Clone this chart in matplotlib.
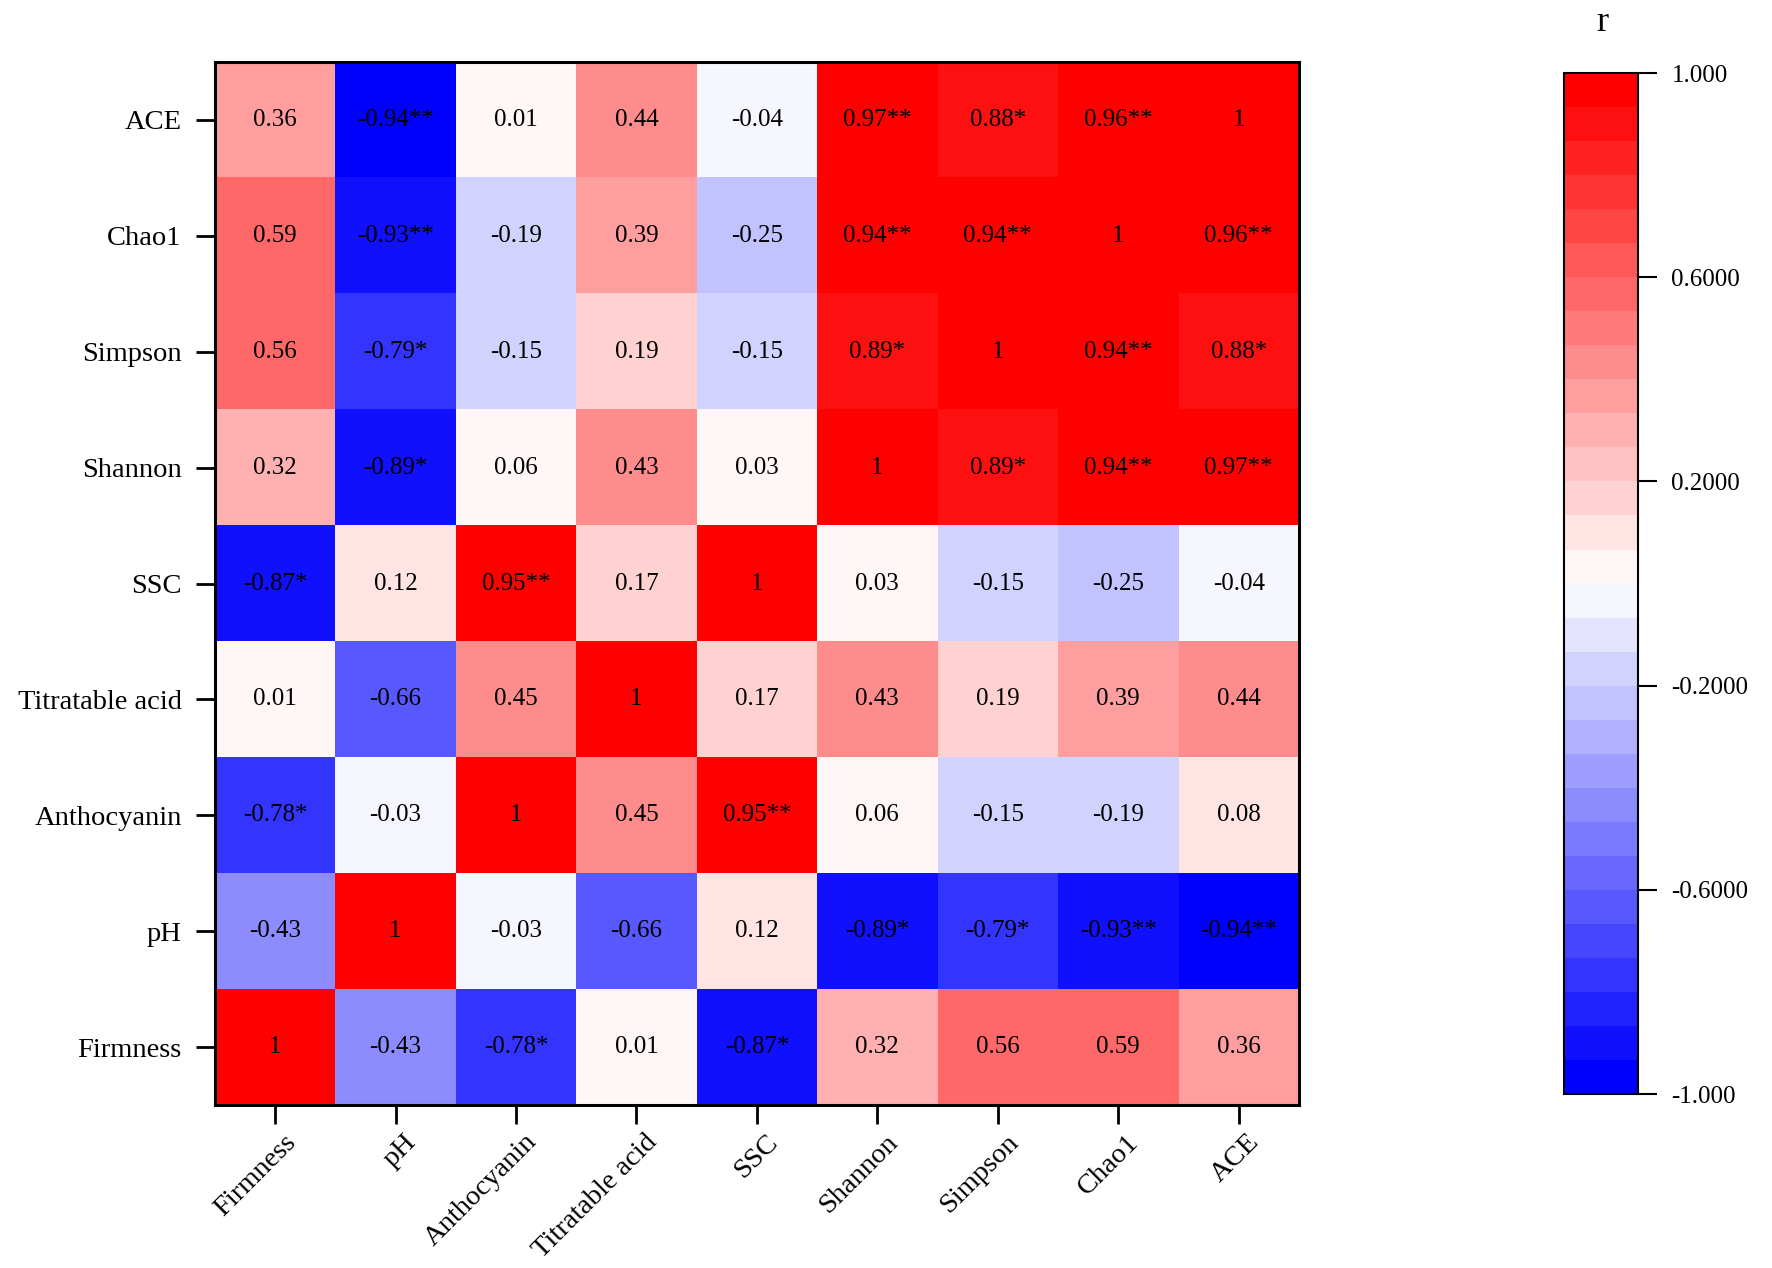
import numpy as np
import matplotlib
matplotlib.use('Agg')
from matplotlib import pyplot as plt
from matplotlib.colors import ListedColormap
import matplotlib.transforms as mtransforms

plt.rcParams['font.family'] = ['Liberation Serif', 'DejaVu Serif']

col_labels = ['Firmness', 'pH', 'Anthocyanin', 'Titratable acid', 'SSC',
              'Shannon', 'Simpson', 'Chao1', 'ACE']
row_labels = ['ACE', 'Chao1', 'Simpson', 'Shannon', 'SSC',
              'Titratable acid', 'Anthocyanin', 'pH', 'Firmness']

# correlation values as printed, rows top to bottom
r_ace = [0.36, -0.94, 0.01, 0.44, -0.04, 0.97, 0.88, 0.96, 1]
r_chao1 = [0.59, -0.93, -0.19, 0.39, -0.25, 0.94, 0.94, 1, 0.96]
r_simpson = [0.56, -0.79, -0.15, 0.19, -0.15, 0.89, 1, 0.94, 0.88]
r_shannon = [0.32, -0.89, 0.06, 0.43, 0.03, 1, 0.89, 0.94, 0.97]
r_ssc = [-0.87, 0.12, 0.95, 0.17, 1, 0.03, -0.15, -0.25, -0.04]
r_acid = [0.01, -0.66, 0.45, 1, 0.17, 0.43, 0.19, 0.39, 0.44]
r_antho = [-0.78, -0.03, 1, 0.45, 0.95, 0.06, -0.15, -0.19, 0.08]
r_ph = [-0.43, 1, -0.03, -0.66, 0.12, -0.89, -0.79, -0.93, -0.94]
r_firm = [1, -0.43, -0.78, 0.01, -0.87, 0.32, 0.56, 0.59, 0.36]

# significance marks
s_ace = ['', '**', '', '', '', '**', '*', '**', '']
s_chao1 = ['', '**', '', '', '', '**', '**', '', '**']
s_simpson = ['', '*', '', '', '', '*', '', '**', '*']
s_shannon = ['', '*', '', '', '', '', '*', '**', '**']
s_ssc = ['*', '', '**', '', '', '', '', '', '']
s_acid = ['', '', '', '', '', '', '', '', '']
s_antho = ['*', '', '', '', '**', '', '', '', '']
s_ph = ['', '', '', '', '', '*', '*', '**', '**']
s_firm = ['', '', '*', '', '*', '', '', '', '']

cbar_ticks = [1.0, 0.6, 0.2, -0.2, -0.6, -1.0]
cbar_ticklabels = ['1.000', '0.6000', '0.2000', '-0.2000', '-0.6000', '-1.000']

vals = np.array([r_ace, r_chao1, r_simpson, r_shannon, r_ssc,
                 r_acid, r_antho, r_ph, r_firm])
stars = [s_ace, s_chao1, s_simpson, s_shannon, s_ssc,
         s_acid, s_antho, s_ph, s_firm]

cmap = ListedColormap(plt.get_cmap('bwr')(np.linspace(0, 1, 30)))

fig = plt.figure(figsize=(17.72, 12.68), dpi=100)
ax = fig.add_axes([0.1213, 0.1285, 0.6117, 0.8226])
im = ax.imshow(vals, cmap=cmap, vmin=-1, vmax=1, aspect='auto',
               interpolation='nearest')

for i in range(vals.shape[0]):
    for j in range(vals.shape[1]):
        v = vals[i, j]
        txt = '1' if v == 1 else f'{v:.2f}'
        ax.text(j, i, txt + stars[i][j], ha='center', va='center',
                fontsize=18, color='black')

ax.set_xticks(range(len(col_labels)))
ax.set_yticks(range(len(row_labels)))
ax.set_xticklabels(col_labels, rotation=45, ha='right', va='center',
                   rotation_mode='anchor', fontsize=20.5)
ax.set_yticklabels(row_labels, fontsize=20.5)
ax.tick_params(axis='both', length=14, width=2)
ax.tick_params(axis='y', pad=10)
ax.tick_params(axis='x', pad=10)
shift = mtransforms.ScaledTranslation(0.17, 0, fig.dpi_scale_trans)
for lab in ax.get_xticklabels():
    lab.set_transform(lab.get_transform() + shift)
for sp in ax.spines.values():
    sp.set_linewidth(2.2)

cax = fig.add_axes([0.8826, 0.1372, 0.0418, 0.8052])
cb = fig.colorbar(im, cax=cax)
cb.set_ticks(cbar_ticks)
cb.set_ticklabels(cbar_ticklabels)
cb.ax.tick_params(length=14, width=1.5, labelsize=18, pad=10)
cb.outline.set_linewidth(1.5)
fig.text(0.904, 0.982, 'r', ha='center', va='center', fontsize=26)

plt.savefig('out.png', dpi=100)
